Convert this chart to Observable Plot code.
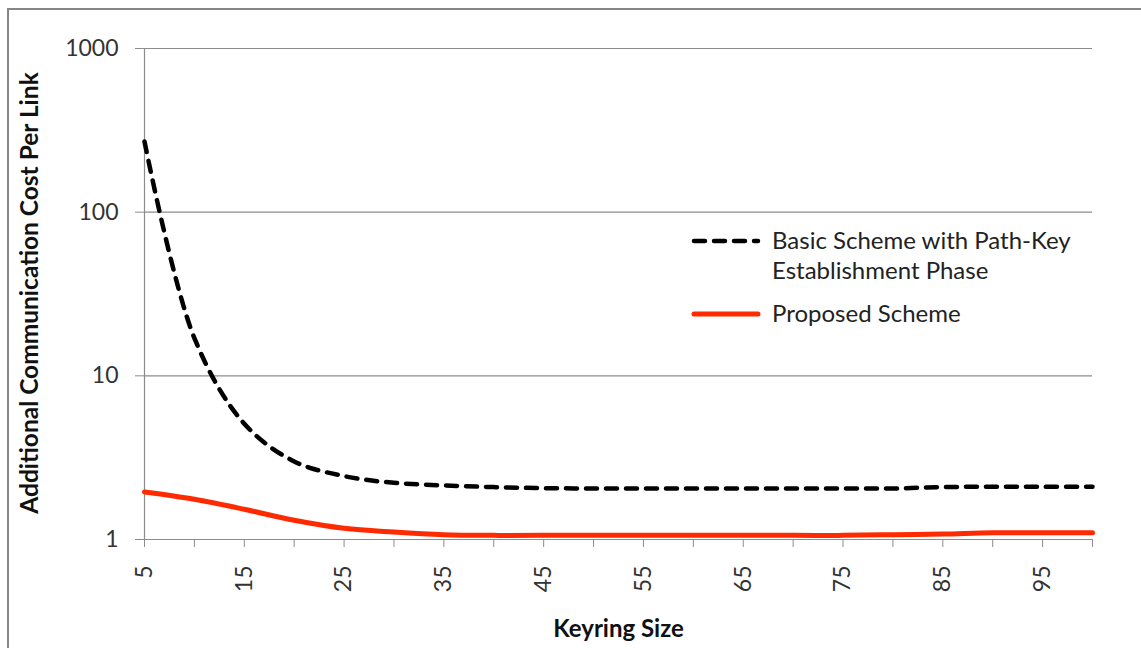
<!DOCTYPE html>
<html>
<head>
<meta charset="utf-8">
<script src="https://cdn.jsdelivr.net/npm/d3@7"></script>
<script src="https://cdn.jsdelivr.net/npm/@observablehq/plot@0.6"></script>
<style>
  html, body { margin: 0; padding: 0; background: #fff; }
  body { width: 1141px; height: 648px; overflow: hidden; position: relative; font-family: Lato, "Open Sans", sans-serif; }
  #frame { position: absolute; left: 7px; top: 8px; width: 1200px; height: 700px; border: 2px solid #858585; box-sizing: border-box; pointer-events: none; }
  #chart { position: absolute; left: 0; top: 0; }
  #legend { position: absolute; left: 0; top: 0; width: 1141px; height: 648px; pointer-events: none; }
  .lg-text { position: absolute; font-size: 24px; color: #222; line-height: 30px; white-space: nowrap; }
</style>
</head>
<body>
<div id="chart"></div>
<div id="legend">
  <svg width="1141" height="648" style="position:absolute;left:0;top:0">
    <line x1="694" y1="241" x2="758" y2="241" stroke="#000" stroke-width="4.5" stroke-dasharray="11,9" stroke-linecap="round"/>
    <line x1="694" y1="314" x2="758" y2="314" stroke="#ff2a00" stroke-width="5" stroke-linecap="round"/>
  </svg>
  <div class="lg-text" style="left:772px; top:225px;">Basic Scheme with Path-Key</div>
  <div class="lg-text" style="left:772px; top:255px;">Establishment Phase</div>
  <div class="lg-text" style="left:772px; top:298px;">Proposed Scheme</div>
</div>
<div id="frame"></div>
<script>
const keyringSize = [5, 10, 15, 20, 25, 30, 35, 40, 45, 50, 55, 60, 65, 70, 75, 80, 85, 90, 95, 100];
const basicScheme = [270, 17, 5.1, 3.0, 2.44, 2.22, 2.14, 2.09, 2.06, 2.05, 2.05, 2.05, 2.05, 2.05, 2.05, 2.05, 2.09, 2.1, 2.1, 2.1];
const proposedScheme = [1.95, 1.76, 1.53, 1.31, 1.17, 1.11, 1.07, 1.06, 1.06, 1.06, 1.06, 1.06, 1.06, 1.06, 1.06, 1.07, 1.08, 1.1, 1.1, 1.1];
const yTicks = [1, 10, 100, 1000];
const xTickMarks = [5, 10, 15, 20, 25, 30, 35, 40, 45, 50, 55, 60, 65, 70, 75, 80, 85, 90, 95, 100];
const xTickLabels = [5, 15, 25, 35, 45, 55, 65, 75, 85, 95];

const basicData = keyringSize.map((k, i) => ({k, v: basicScheme[i]}));
const propData = keyringSize.map((k, i) => ({k, v: proposedScheme[i]}));

const chart = Plot.plot({
  width: 1141,
  height: 648,
  marginLeft: 144,
  marginRight: 49,
  marginTop: 48,
  marginBottom: 109,
  style: {fontFamily: "Lato, 'Open Sans', sans-serif", background: "transparent"},
  x: {domain: [5, 100], label: null},
  y: {type: "log", domain: [1, 1000], label: null},
  marks: [
    Plot.gridY(yTicks.slice(1), {stroke: "#8c8c8c", strokeOpacity: 1, strokeWidth: 1.2}),
    Plot.ruleY([1], {stroke: "#8c8c8c", strokeWidth: 1.2}),
    Plot.ruleX([5], {stroke: "#8c8c8c", strokeWidth: 1.2}),
    Plot.axisY({ticks: yTicks, tickSize: 9, tickPadding: 17, tickFormat: d => String(d), stroke: "#8c8c8c", fill: "#333", fontSize: 23, label: null}),
    Plot.axisX({ticks: xTickMarks, tickSize: 8, tickFormat: () => "", stroke: "#8c8c8c", label: null}),
    Plot.axisX({ticks: xTickLabels, tickSize: 0, tickPadding: 26, tickRotate: -90, tickFormat: d => String(d), fill: "#333", fontSize: 23, label: null}),
    Plot.text(["Additional Communication Cost Per Link"], {frameAnchor: "left", dx: -114, dy: -1, rotate: -90, textAnchor: "middle", fontWeight: "bold", fontSize: 24.5, fill: "#111"}),
    Plot.text(["Keyring Size"], {frameAnchor: "bottom", dy: 97, textAnchor: "middle", fontWeight: "bold", fontSize: 24, fill: "#111"}),
    Plot.line(basicData, {x: "k", y: "v", stroke: "#000", strokeWidth: 4.5, strokeDasharray: "11,9", strokeLinecap: "round", curve: "catmull-rom"}),
    Plot.line(propData, {x: "k", y: "v", stroke: "#ff2a00", strokeWidth: 5, curve: "catmull-rom"})
  ]
});
document.getElementById("chart").appendChild(chart);
</script>
</body>
</html>
